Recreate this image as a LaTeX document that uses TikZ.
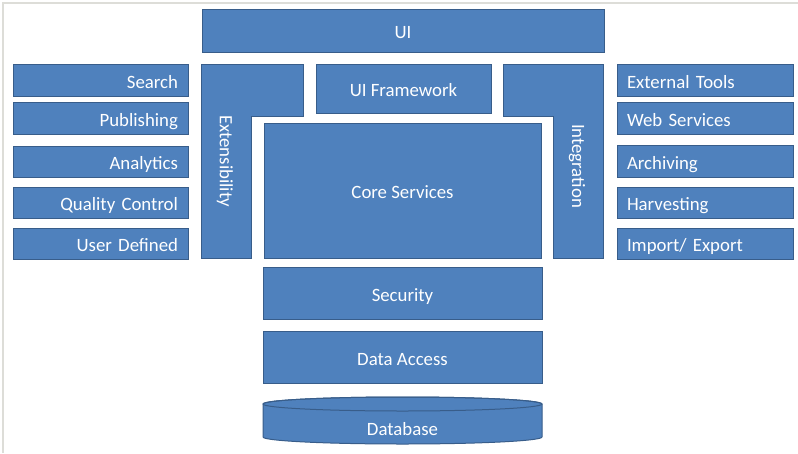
\documentclass[tikz,border=0pt]{standalone}
\usepackage{fontspec}
\setmainfont{Carlito}
\definecolor{boxfill}{HTML}{4F81BD}
\definecolor{boxline}{HTML}{385D8A}
\definecolor{frameline}{HTML}{DDDDD8}
\begin{document}
\begin{tikzpicture}[x=1pt,y=-1pt,
  blk/.style={draw=boxline, fill=boxfill, line width=1pt, text=white,
    font=\fontsize{18.8}{22}\selectfont, inner sep=0pt, text height=16pt, text depth=0pt},
  lbox/.style={blk, minimum width=175pt, text width=155pt, align=right},
  rbox/.style={blk, minimum width=176pt, text width=156pt, align=left},
  lbl/.style={text=white, font=\fontsize{18.8}{22}\selectfont, inner sep=0pt}]
\useasboundingbox (0,0) rectangle (798,453);
\draw[frameline, line width=1.5pt] (3,453) -- (3,3) -- (798,3);
% top
\node[blk, minimum width=402pt, minimum height=43pt] (ui) at (403,30.5) {UI};
% left column
\node[lbox, minimum height=32pt] (search) at (100.5,80) {Search};
\node[lbox, minimum height=32pt] (pub) at (100.5,118) {Publishing};
\node[lbox, minimum height=31pt] (ana) at (100.5,161.5) {Analytics};
\node[lbox, minimum height=31pt] (qc) at (100.5,202.5) {Quality Control};
\node[lbox, minimum height=31pt] (ud) at (100.5,243.5) {User Defined};
% right column
\node[rbox, minimum height=32pt] (ext) at (705,80) {External Tools};
\node[rbox, minimum height=32pt] (web) at (705,118) {Web Services};
\node[rbox, minimum height=32pt] (arch) at (705,161) {Archiving};
\node[rbox, minimum height=31pt] (harv) at (705,202.5) {Harvesting};
\node[rbox, minimum height=31pt] (imp) at (705,243.5) {Import/ Export};
% L shapes
\path[draw=boxline, fill=boxfill, line width=1pt]
  (201,64) -- (303,64) -- (303,116) -- (251,116) -- (251,258) -- (201,258) -- cycle;
\node[lbl, rotate=-90] (extens) at (225,161) {Extensibility};
\path[draw=boxline, fill=boxfill, line width=1pt]
  (503,64) -- (603,64) -- (603,258) -- (553,258) -- (553,116) -- (503,116) -- cycle;
\node[lbl, rotate=-90] (integ) at (577,166) {Integration};
% center stack
\node[blk, minimum width=175pt, minimum height=49pt] (uif) at (403.5,88.5) {UI Framework};
\node[blk, minimum width=277pt, minimum height=135pt] (core) at (402.5,190.5) {Core Services};
\node[blk, minimum width=279pt, minimum height=52pt] (sec) at (402.5,293) {Security};
\node[blk, minimum width=279pt, minimum height=52pt] (da) at (402.5,357) {Data Access};
% database cylinder
\path[draw=boxline, fill=boxfill, line width=1pt]
  (263,404) -- (263,437) arc[start angle=180, end angle=360, x radius=139.5pt, y radius=7pt]
  -- (542,404) arc[start angle=0, end angle=180, x radius=139.5pt, y radius=7pt] -- cycle;
\draw[boxline, line width=1pt] (402.5,404) ellipse[x radius=139.5pt, y radius=7pt];
\node[lbl] (db) at (402.5,429) {Database};
\end{tikzpicture}
\end{document}
